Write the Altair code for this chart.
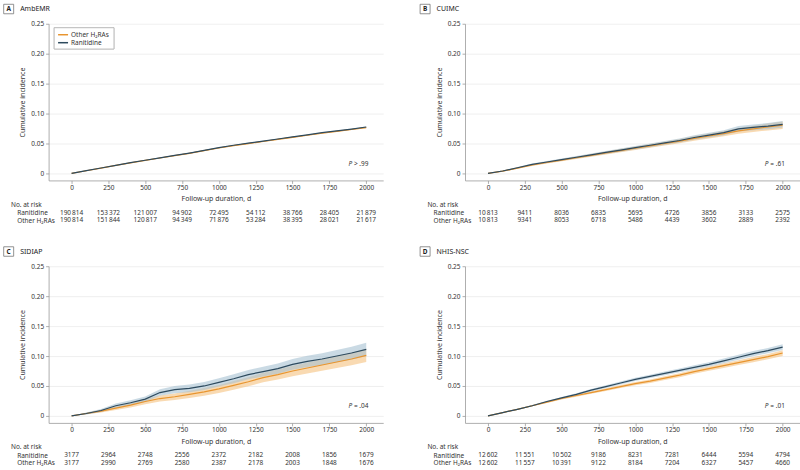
import altair as alt
import pandas as pd

# ---------------- data ----------------
T = list(range(0, 2001, 100))
RISK_T = list(range(0, 2001, 250))
GROUPS = ["Other H₂RAs", "Ranitidine"]

PANEL_LETTERS = ["A", "B", "C", "D"]
PANEL_NAMES = ["AmbEMR", "CUIMC", "SIDIAP", "NHIS-NSC"]
P_TEXTS = ["> .99", "= .61", "= .04", "= .01"]

A_RAN = [0, 0.0045, 0.009, 0.0135, 0.018, 0.022, 0.026, 0.030, 0.034, 0.0385, 0.043, 0.047, 0.0505, 0.054, 0.0575, 0.061, 0.0645, 0.068, 0.071, 0.074, 0.0775]
A_OTH = [0, 0.0044, 0.0089, 0.0133, 0.0177, 0.0217, 0.0257, 0.0296, 0.0336, 0.0380, 0.0424, 0.0463, 0.0498, 0.0533, 0.0568, 0.0603, 0.0637, 0.0671, 0.0702, 0.0733, 0.0766]
A_RAN_HW = [0, 0.0002, 0.0002, 0.0003, 0.0003, 0.0003, 0.0004, 0.0004, 0.0004, 0.0005, 0.0005, 0.0005, 0.0006, 0.0006, 0.0006, 0.0007, 0.0007, 0.0007, 0.0008, 0.0008, 0.0009]
A_OTH_HW = [0, 0.0002, 0.0002, 0.0003, 0.0003, 0.0003, 0.0004, 0.0004, 0.0004, 0.0005, 0.0005, 0.0005, 0.0006, 0.0006, 0.0006, 0.0007, 0.0007, 0.0007, 0.0008, 0.0008, 0.0009]

B_RAN = [0, 0.004, 0.0095, 0.015, 0.019, 0.023, 0.027, 0.031, 0.035, 0.039, 0.043, 0.047, 0.051, 0.055, 0.060, 0.064, 0.068, 0.0745, 0.077, 0.079, 0.082]
B_OTH = [0, 0.0038, 0.0088, 0.014, 0.0182, 0.0222, 0.0262, 0.0302, 0.0342, 0.0382, 0.042, 0.046, 0.050, 0.054, 0.0585, 0.0625, 0.0665, 0.071, 0.0745, 0.0775, 0.0805]
B_RAN_HW = [0, 0.0008, 0.0012, 0.0015, 0.0017, 0.0019, 0.0021, 0.0023, 0.0025, 0.0027, 0.0029, 0.0031, 0.0033, 0.0035, 0.0037, 0.0039, 0.0042, 0.0045, 0.0048, 0.0051, 0.0055]
B_OTH_HW = [0, 0.0008, 0.0012, 0.0015, 0.0018, 0.0020, 0.0022, 0.0024, 0.0026, 0.0028, 0.0030, 0.0032, 0.0034, 0.0036, 0.0039, 0.0042, 0.0045, 0.0049, 0.0053, 0.0057, 0.0062]

C_RAN = [0, 0.004, 0.009, 0.017, 0.022, 0.028, 0.039, 0.044, 0.046, 0.050, 0.056, 0.062, 0.069, 0.074, 0.079, 0.086, 0.091, 0.095, 0.100, 0.105, 0.111]
C_OTH = [0, 0.004, 0.008, 0.013, 0.018, 0.024, 0.029, 0.032, 0.036, 0.040, 0.045, 0.051, 0.057, 0.064, 0.069, 0.075, 0.080, 0.085, 0.090, 0.095, 0.101]
C_RAN_HW = [0, 0.0015, 0.0025, 0.0035, 0.004, 0.0045, 0.0055, 0.006, 0.0063, 0.0066, 0.007, 0.0074, 0.0078, 0.0082, 0.0086, 0.009, 0.0094, 0.0098, 0.0102, 0.0106, 0.0112]
C_OTH_HW = [0, 0.0014, 0.0024, 0.0032, 0.0038, 0.0044, 0.005, 0.0055, 0.006, 0.0064, 0.0068, 0.0072, 0.0076, 0.008, 0.0084, 0.0088, 0.0092, 0.0096, 0.010, 0.0104, 0.0108]

D_RAN = [0, 0.0055, 0.011, 0.017, 0.024, 0.030, 0.036, 0.043, 0.049, 0.055, 0.061, 0.066, 0.071, 0.076, 0.081, 0.086, 0.092, 0.098, 0.104, 0.109, 0.115]
D_OTH = [0, 0.0055, 0.011, 0.017, 0.023, 0.029, 0.034, 0.039, 0.044, 0.049, 0.054, 0.058, 0.063, 0.068, 0.074, 0.079, 0.084, 0.089, 0.094, 0.099, 0.105]
D_RAN_HW = [0, 0.0005, 0.0008, 0.0011, 0.0014, 0.0017, 0.0019, 0.0021, 0.0023, 0.0025, 0.0027, 0.0029, 0.0031, 0.0033, 0.0035, 0.0037, 0.0039, 0.0041, 0.0043, 0.0045, 0.0048]
D_OTH_HW = [0, 0.0005, 0.0008, 0.0011, 0.0014, 0.0017, 0.0019, 0.0021, 0.0023, 0.0025, 0.0027, 0.0029, 0.0031, 0.0033, 0.0035, 0.0037, 0.0039, 0.0041, 0.0043, 0.0045, 0.0048]

A_RISK_RAN = [190814, 153372, 121007, 94902, 72495, 54112, 38766, 28405, 21879]
A_RISK_OTH = [190814, 151844, 120817, 94349, 71876, 53284, 38395, 28021, 21617]
B_RISK_RAN = [10813, 9411, 8036, 6835, 5695, 4726, 3856, 3133, 2575]
B_RISK_OTH = [10813, 9341, 8053, 6718, 5486, 4439, 3602, 2889, 2392]
C_RISK_RAN = [3177, 2964, 2748, 2556, 2372, 2182, 2008, 1856, 1679]
C_RISK_OTH = [3177, 2990, 2769, 2580, 2387, 2178, 2003, 1848, 1676]
D_RISK_RAN = [12602, 11551, 10502, 9186, 8231, 7281, 6444, 5594, 4794]
D_RISK_OTH = [12602, 11557, 10391, 9122, 8184, 7204, 6327, 5457, 4660]

# ---------------- style ----------------
LINE_COLORS = ["#e8952f", "#2d4a5e"]
BAND_COLORS = ["#f5c27e", "#a7c2d2"]
TXT = "#333333"
AX = "#9a9a9a"
FS = 6.5
XD = [-156, 2115]
YD = [-0.0117, 0.25]
W, H = 335.3, 157
STEP = 7.7


def fmt(n):
    return f"{n:,}".replace(",", "\u2009") if n >= 10000 else str(n)


def curve_df(ran, ran_hw, oth, oth_hw):
    rows = []
    for g, est, hw in ((GROUPS[0], oth, oth_hw), (GROUPS[1], ran, ran_hw)):
        for t, e, h in zip(T, est, hw):
            rows.append({"t": t, "group": g, "est": e, "lo": max(e - h, 0), "hi": e + h})
    return pd.DataFrame(rows)


def legend_layers():
    ld = alt.Chart(pd.DataFrame({"label": GROUPS}))
    box = ld.mark_rect(fill="white", stroke="#b5b5b5", strokeWidth=0.8).encode(
        x=alt.value(5.6), x2=alt.value(65.5), y=alt.value(4), y2=alt.value(25.3))
    layers = [box]
    for i, g in enumerate(GROUPS):
        yy = 11 + 8 * i
        sub = alt.Chart(pd.DataFrame({"label": [g]}))
        layers.append(sub.mark_rule(strokeWidth=1.5, color=LINE_COLORS[i]).encode(
            x=alt.value(9.5), x2=alt.value(19.5), y=alt.value(yy)))
        layers.append(sub.mark_text(fontSize=FS, align="left", color=TXT).encode(
            x=alt.value(22.5), y=alt.value(yy), text="label:N"))
    return layers


def plot_panel(idx, df, show_legend):
    xscale = alt.Scale(domain=XD, nice=False, zero=False)
    yscale = alt.Scale(domain=YD, nice=False, zero=False)
    xaxis = alt.Axis(values=RISK_T, format="d", title="Follow-up duration, d", grid=False,
                     tickSize=3, labelPadding=1, titlePadding=4, labelFontSize=FS,
                     titleFontSize=7, titleFontWeight="normal", labelColor=TXT, titleColor=TXT,
                     domainColor=AX, tickColor=AX, domainWidth=0.8, tickWidth=0.8)
    yaxis = alt.Axis(values=[0, 0.05, 0.10, 0.15, 0.20, 0.25],
                     labelExpr="datum.value == 0 ? '0' : format(datum.value, '.2f')",
                     title="Cumulative incidence", grid=True, gridColor="#ebebeb", gridWidth=0.8,
                     tickSize=3, labelPadding=2, titlePadding=5, labelFontSize=FS,
                     titleFontSize=7, titleFontWeight="normal", labelColor=TXT, titleColor=TXT,
                     domainColor=AX, tickColor=AX, domainWidth=0.8, tickWidth=0.8)
    base = alt.Chart(df)
    band = base.mark_area(opacity=0.6).encode(
        x=alt.X("t:Q", scale=xscale, axis=xaxis),
        y=alt.Y("lo:Q", scale=yscale, axis=yaxis),
        y2="hi:Q",
        fill=alt.Fill("group:N", scale=alt.Scale(domain=GROUPS, range=BAND_COLORS), legend=None),
    )
    line = base.mark_line(strokeWidth=1.2).encode(
        x=alt.X("t:Q", scale=xscale, axis=xaxis),
        y=alt.Y("est:Q", scale=yscale, axis=yaxis),
        color=alt.Color("group:N", scale=alt.Scale(domain=GROUPS, range=LINE_COLORS), legend=None),
    )
    info = alt.Chart(pd.DataFrame({"letter": [PANEL_LETTERS[idx]], "name": [PANEL_NAMES[idx]],
                                   "p": [P_TEXTS[idx]]}))
    box = info.mark_rect(fill="white", stroke="#777777", strokeWidth=0.8).encode(
        x=alt.value(-45), x2=alt.value(-35), y=alt.value(-19.5), y2=alt.value(-10))
    letter = info.mark_text(fontSize=6.5, fontWeight="bold", color="#222222").encode(
        x=alt.value(-40), y=alt.value(-14.6), text="letter:N")
    name = info.mark_text(fontSize=7, align="left", color="#222222").encode(
        x=alt.value(-28.5), y=alt.value(-14.6), text="name:N")
    pit = info.mark_text(fontSize=FS, align="left", fontStyle="italic", color=TXT).encode(
        x=alt.value(300.5), y=alt.value(140.5), text=alt.value("P"))
    prest = info.mark_text(fontSize=FS, align="left", color=TXT).encode(
        x=alt.value(306), y=alt.value(140.5), text="p:N")
    layers = [band, line, box, letter, name, pit, prest]
    if show_legend:
        layers += legend_layers()
    return alt.layer(*layers).properties(width=W, height=H)


def table_panel(ran_counts, oth_counts, height):
    rows = []
    for t, c in zip(RISK_T, ran_counts):
        rows.append({"t": t, "r": 2, "txt": fmt(c)})
    for t, c in zip(RISK_T, oth_counts):
        rows.append({"t": t, "r": 3, "txt": fmt(c)})
    df = pd.DataFrame(rows)
    r0 = 1 - 4.5 / STEP
    yscale = alt.Scale(domain=[r0, r0 + height / STEP], reverse=True, zero=False, nice=False)
    yaxis = alt.Axis(values=[2, 3], labelExpr="datum.value == 2 ? 'Ranitidine' : 'Other H₂RAs'",
                     title=None, domain=False, ticks=False, grid=False, labelAlign="left",
                     labelPadding=32, labelFontSize=FS, labelColor=TXT, labelBaseline="middle")
    yenc = alt.Y("r:Q", scale=yscale, axis=yaxis)
    nums = alt.Chart(df).mark_text(fontSize=FS, color=TXT).encode(
        x=alt.X("t:Q", scale=alt.Scale(domain=XD, nice=False, zero=False), axis=None),
        y=yenc, text="txt:N")
    head = alt.Chart(pd.DataFrame({"h": ["No. at risk"], "r": [1]})).mark_text(
        fontSize=FS, color=TXT, align="left").encode(x=alt.value(-37.7), y=yenc, text="h:N")
    return alt.layer(nums, head).properties(width=W, height=height)


pA = plot_panel(0, curve_df(A_RAN, A_RAN_HW, A_OTH, A_OTH_HW), True)
pB = plot_panel(1, curve_df(B_RAN, B_RAN_HW, B_OTH, B_OTH_HW), False)
pC = plot_panel(2, curve_df(C_RAN, C_RAN_HW, C_OTH, C_OTH_HW), False)
pD = plot_panel(3, curve_df(D_RAN, D_RAN_HW, D_OTH, D_OTH_HW), False)
tA = table_panel(A_RISK_RAN, A_RISK_OTH, 45.6)
tB = table_panel(B_RISK_RAN, B_RISK_OTH, 45.6)
tC = table_panel(C_RISK_RAN, C_RISK_OTH, 23.5)
tD = table_panel(D_RISK_RAN, D_RISK_OTH, 23.5)

chart = alt.concat(pA, pB, tA, tB, pC, pD, tC, tD, columns=2,
                   spacing={"row": 20, "column": 81.3}, bounds="flush")
chart = chart.resolve_scale(x="independent", y="independent", color="independent",
                            fill="independent")
chart = chart.properties(padding={"left": 2.7, "top": 3.3, "right": 0, "bottom": 0},
                         background="white")
chart = chart.configure(font="Noto Sans").configure_view(stroke=None)

chart.save("out.html", embed_options={"renderer": "svg", "actions": False})
